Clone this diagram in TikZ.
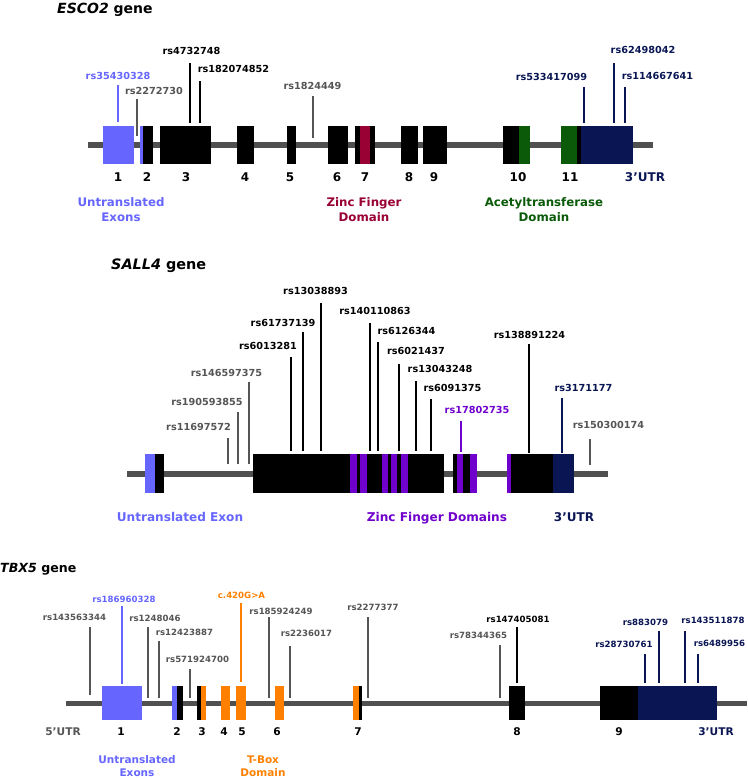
\documentclass[tikz,border=0pt]{standalone}
\usepackage{fontspec}
\setmainfont{DejaVu Sans}
\usepackage{tikz}
\usetikzlibrary{positioning}
\definecolor{utr}{RGB}{102,102,255}
\definecolor{znf}{RGB}{153,0,51}
\definecolor{acet}{RGB}{10,90,10}
\definecolor{navy}{RGB}{10,22,84}
\definecolor{snpgray}{RGB}{85,85,85}
\definecolor{bbgray}{RGB}{80,80,80}
\definecolor{zfpurple}{RGB}{112,0,204}
\definecolor{tbox}{RGB}{255,128,0}

\begin{document}
\begin{tikzpicture}[x=1pt,y=-1pt,
  exon/.style={anchor=north west,inner sep=0pt,outer sep=0pt,fill=black},
  esc/.style={exon,minimum height=38pt},
  sal/.style={exon,minimum height=39pt},
  tbx/.style={exon,minimum height=34pt},
  bb/.style={draw=bbgray,line width=6pt},
  stem/.style={line width=1.8pt},
  title/.style={anchor=base west,inner sep=0pt,font=\fontsize{14}{16}\selectfont\bfseries},
  lbl/.style={inner sep=0pt,font=\fontsize{9.7}{11}\selectfont\bfseries},
  lbls/.style={inner sep=0pt,font=\fontsize{8.6}{10}\selectfont\bfseries},
  num/.style={inner sep=0pt,font=\fontsize{12}{14}\selectfont\bfseries},
  nums/.style={inner sep=0pt,font=\fontsize{10.6}{12}\selectfont\bfseries},
  dom/.style={inner sep=0pt,align=center,font=\fontsize{11.8}{15}\selectfont\bfseries},
  doms/.style={inner sep=0pt,align=center,font=\fontsize{10.5}{13}\selectfont\bfseries}
]
\useasboundingbox (0,0) rectangle (747,779);

% ---------------- ESCO2 ----------------
\node[title] (escT) at (57,13) {\itshape ESCO2\upshape\ gene};
\coordinate (escL) at (88,145); \coordinate (escR) at (653,145);
\draw[bb] (escL) -- (escR);
\node[esc,fill=utr,minimum width=31pt] (esc1) at (103,126) {};
\node[esc,minimum width=13pt] (esc2) at (140,126) {};
\node[esc,fill=utr,minimum width=3pt] (esc2u) at (140,126) {};
\node[esc,minimum width=51pt] (esc3) at (160,126) {};
\node[esc,minimum width=17pt] (esc4) at (237,126) {};
\node[esc,minimum width=9pt] (esc5) at (287,126) {};
\node[esc,minimum width=20pt] (esc6) at (328,126) {};
\node[esc,minimum width=20pt] (esc7) at (355,126) {};
\node[esc,fill=znf,minimum width=10pt] (esc7z) at (360,126) {};
\node[esc,minimum width=17pt] (esc8) at (401,126) {};
\node[esc,minimum width=24pt] (esc9) at (423,126) {};
\node[esc,minimum width=27pt] (esc10) at (503,126) {};
\node[esc,fill=acet,minimum width=11pt] (esc10a) at (519,126) {};
\node[esc,minimum width=72pt] (esc11) at (561,126) {};
\node[esc,fill=acet,minimum width=16pt] (esc11a) at (561,126) {};
\node[esc,fill=navy,minimum width=52pt] (esc3u) at (581,126) {};

% SNPs
\coordinate (p1) at (118,122); \draw[stem,utr] (p1) -- ++(0,-37);
\node[lbl,text=utr] (l1) at (118,76) {rs35430328};
\coordinate (p2) at (137,136); \draw[stem,snpgray,line width=1.5pt] (p2) -- ++(0,-37);
\node[lbl,text=snpgray] (l2) at (154,91) {rs2272730};
\coordinate (p3) at (190,123); \draw[stem] (p3) -- ++(0,-60);
\node[lbl] (l3) at (191.5,51) {rs4732748};
\coordinate (p4) at (200,123); \draw[stem] (p4) -- ++(0,-42);
\node[lbl] (l4) at (233.5,69) {rs182074852};
\coordinate (p5) at (313,138); \draw[stem,snpgray,line width=1.5pt] (p5) -- ++(0,-42);
\node[lbl,text=snpgray] (l5) at (312.5,86) {rs1824449};
\coordinate (p6) at (584,123); \draw[stem,navy] (p6) -- ++(0,-36);
\node[lbl,text=navy] (l6) at (551.5,77) {rs533417099};
\coordinate (p7) at (614,123); \draw[stem,navy] (p7) -- ++(0,-60);
\node[lbl,text=navy] (l7) at (643,50) {rs62498042};
\coordinate (p8) at (625,123); \draw[stem,navy] (p8) -- ++(0,-36);
\node[lbl,text=navy] (l8) at (657.5,76) {rs114667641};

% exon numbers and domains
\node[num] (n1) at (118,177) {1};
\node[num] (n2) at (147,177) {2};
\node[num] (n3) at (186,177) {3};
\node[num] (n4) at (245,177) {4};
\node[num] (n5) at (290,177) {5};
\node[num] (n6) at (337,177) {6};
\node[num] (n7) at (365,177) {7};
\node[num] (n8) at (409,177) {8};
\node[num] (n9) at (434,177) {9};
\node[num] (n10) at (518,177) {10};
\node[num] (n11) at (570,177) {11};
\node[num,text=navy] (n12) at (645,177) {3’UTR};
\node[dom,text=utr] (d1) at (121,210) {Untranslated\\Exons};
\node[dom,text=znf] (d2) at (364,210) {Zinc Finger\\Domain};
\node[dom,text=acet] (d3) at (544,210) {Acetyltransferase\\Domain};

% ---------------- SALL4 ----------------
\node[title,font=\fontsize{14.4}{16}\selectfont\bfseries] (salT) at (111,269) {\itshape SALL4\upshape\ gene};
\coordinate (salL) at (127,474); \coordinate (salR) at (608,474);
\draw[bb] (salL) -- (salR);
\node[sal,minimum width=19pt] (sal1) at (145,454) {};
\node[sal,fill=utr,minimum width=10pt] (sal1u) at (145,454) {};
\node[sal,minimum width=191pt] (sal2) at (253,454) {};
\node[sal,fill=zfpurple,minimum width=7pt] (zf1) at (350,454) {};
\node[sal,fill=zfpurple,minimum width=7pt] (zf2) at (360,454) {};
\node[sal,fill=zfpurple,minimum width=6pt] (zf3) at (382,454) {};
\node[sal,fill=zfpurple,minimum width=6pt] (zf4) at (391,454) {};
\node[sal,fill=zfpurple,minimum width=7pt] (zf5) at (401,454) {};
\node[sal,minimum width=24pt] (sal3) at (453,454) {};
\node[sal,fill=zfpurple,minimum width=6pt] (zf6) at (457,454) {};
\node[sal,fill=zfpurple,minimum width=7pt] (zf7) at (470,454) {};
\node[sal,minimum width=67pt] (sal4) at (507,454) {};
\node[sal,fill=zfpurple,minimum width=4pt] (zf8) at (507,454) {};
\node[sal,fill=navy,minimum width=21pt] (sal3u) at (553,454) {};

% SNPs
\coordinate (q1) at (228,464); \draw[stem,snpgray,line width=1.5pt] (q1) -- ++(0,-26);
\node[lbl,text=snpgray] (m1) at (198.5,427) {rs11697572};
\coordinate (q2) at (238,464); \draw[stem,snpgray,line width=1.5pt] (q2) -- ++(0,-52);
\node[lbl,text=snpgray] (m2) at (207,402) {rs190593855};
\coordinate (q3) at (249,464); \draw[stem,snpgray,line width=1.5pt] (q3) -- ++(0,-82);
\node[lbl,text=snpgray] (m3) at (226.5,373) {rs146597375};
\coordinate (q4) at (291,451); \draw[stem] (q4) -- ++(0,-94);
\node[lbl] (m4) at (268,346) {rs6013281};
\coordinate (q5) at (303,451); \draw[stem] (q5) -- ++(0,-119);
\node[lbl] (m5) at (283,323) {rs61737139};
\coordinate (q6) at (321,451); \draw[stem] (q6) -- ++(0,-148);
\node[lbl] (m6) at (315.5,291) {rs13038893};
\coordinate (q7) at (370,451); \draw[stem] (q7) -- ++(0,-128);
\node[lbl] (m7) at (375,311) {rs140110863};
\coordinate (q8) at (378,451); \draw[stem] (q8) -- ++(0,-109);
\node[lbl] (m8) at (406.5,331) {rs6126344};
\coordinate (q9) at (399,451); \draw[stem] (q9) -- ++(0,-87);
\node[lbl] (m9) at (416,351) {rs6021437};
\coordinate (q10) at (416,451); \draw[stem] (q10) -- ++(0,-70);
\node[lbl] (m10) at (440,369) {rs13043248};
\coordinate (q11) at (431,451); \draw[stem] (q11) -- ++(0,-52);
\node[lbl] (m11) at (452.5,388) {rs6091375};
\coordinate (q12) at (461,452); \draw[stem,zfpurple] (q12) -- ++(0,-31);
\node[lbl,text=zfpurple] (m12) at (477,410) {rs17802735};
\coordinate (q13) at (529,453); \draw[stem] (q13) -- ++(0,-109);
\node[lbl] (m13) at (529.5,335) {rs138891224};
\coordinate (q14) at (562,453); \draw[stem,navy] (q14) -- ++(0,-55);
\node[lbl,text=navy] (m14) at (583.5,388) {rs3171177};
\coordinate (q15) at (590,465); \draw[stem,snpgray,line width=1.5pt] (q15) -- ++(0,-26);
\node[lbl,text=snpgray] (m15) at (608.5,425) {rs150300174};

% domains
\node[dom,anchor=base,font=\fontsize{12.1}{15}\selectfont\bfseries,text=utr] (s1) at (180,521) {Untranslated Exon};
\node[dom,anchor=base,font=\fontsize{12.1}{15}\selectfont\bfseries,text=zfpurple] (s2) at (437,521) {Zinc Finger Domains};
\node[num,anchor=base,text=navy] (s3) at (574,521) {3’UTR};

% ---------------- TBX5 ----------------
\node[title,font=\fontsize{12.6}{15}\selectfont\bfseries] (tbxT) at (0,572) {\itshape TBX5\upshape\ gene};
\coordinate (tbxL) at (66,703.5); \coordinate (tbxR) at (747,703.5);
\draw[bb,line width=5pt] (tbxL) -- (tbxR);
\node[tbx,fill=utr,minimum width=40pt] (tbx1) at (102,686) {};
\node[tbx,minimum width=11pt] (tbx2) at (172,686) {};
\node[tbx,fill=utr,minimum width=5pt] (tbx2u) at (172,686) {};
\node[tbx,minimum width=9pt] (tbx3) at (197,686) {};
\node[tbx,fill=tbox,minimum width=5pt] (tbx3t) at (201,686) {};
\node[tbx,fill=tbox,minimum width=9pt] (tbx4) at (221,686) {};
\node[tbx,fill=tbox,minimum width=10pt] (tbx5) at (236,686) {};
\node[tbx,fill=tbox,minimum width=9pt] (tbx6) at (275,686) {};
\node[tbx,fill=tbox,minimum width=9pt] (tbx7) at (353,686) {};
\node[tbx,minimum width=3pt] (tbx7b) at (359,686) {};
\node[tbx,minimum width=16pt] (tbx8) at (509,686) {};
\node[tbx,minimum width=117pt] (tbx9) at (600,686) {};
\node[tbx,fill=navy,minimum width=79pt] (tbx3u) at (638,686) {};

% SNPs
\coordinate (r1) at (90,695); \draw[stem,snpgray,line width=1.5pt] (r1) -- ++(0,-68);
\node[lbls,text=snpgray] (k1) at (74.5,617) {rs143563344};
\coordinate (r2) at (122,684); \draw[stem,utr] (r2) -- ++(0,-78);
\node[lbls,text=utr] (k2) at (124,599) {rs186960328};
\coordinate (r3) at (148,698); \draw[stem,snpgray,line width=1.5pt] (r3) -- ++(0,-71);
\node[lbls,text=snpgray] (k3) at (155,618) {rs1248046};
\coordinate (r4) at (159,698); \draw[stem,snpgray,line width=1.5pt] (r4) -- ++(0,-57);
\node[lbls,text=snpgray] (k4) at (184.5,632) {rs12423887};
\coordinate (r5) at (190,698); \draw[stem,snpgray,line width=1.5pt] (r5) -- ++(0,-29);
\node[lbls,text=snpgray] (k5) at (197.5,659) {rs571924700};
\coordinate (r6) at (241,682); \draw[stem,tbox] (r6) -- ++(0,-79);
\node[lbls,text=tbox] (k6) at (241.5,595) {c.420G>A};
\coordinate (r7) at (269,698); \draw[stem,snpgray,line width=1.5pt] (r7) -- ++(0,-81);
\node[lbls,text=snpgray] (k7) at (281,611) {rs185924249};
\coordinate (r8) at (290,698); \draw[stem,snpgray,line width=1.5pt] (r8) -- ++(0,-52);
\node[lbls,text=snpgray] (k8) at (306.5,633) {rs2236017};
\coordinate (r9) at (368,698); \draw[stem,snpgray,line width=1.5pt] (r9) -- ++(0,-81);
\node[lbls,text=snpgray] (k9) at (373,607) {rs2277377};
\coordinate (r10) at (500,698); \draw[stem,snpgray,line width=1.5pt] (r10) -- ++(0,-53);
\node[lbls,text=snpgray] (k10) at (478.5,635) {rs78344365};
\coordinate (r11) at (517,683); \draw[stem] (r11) -- ++(0,-56);
\node[lbls] (k11) at (518,619) {rs147405081};
\coordinate (r12) at (645,683); \draw[stem,navy] (r12) -- ++(0,-29);
\node[lbls,text=navy] (k12) at (624,644) {rs28730761};
\coordinate (r13) at (659,683); \draw[stem,navy] (r13) -- ++(0,-52);
\node[lbls,text=navy] (k13) at (645.5,622) {rs883079};
\coordinate (r14) at (685,683); \draw[stem,navy] (r14) -- ++(0,-52);
\node[lbls,text=navy] (k14) at (713,620) {rs143511878};
\coordinate (r15) at (698,683); \draw[stem,navy] (r15) -- ++(0,-29);
\node[lbls,text=navy] (k15) at (719.5,643) {rs6489956};

% exon numbers and domains
\node[nums,text=snpgray] (t0) at (63,732) {5’UTR};
\node[nums] (t1) at (121,732) {1};
\node[nums] (t2) at (177,732) {2};
\node[nums] (t3) at (202,732) {3};
\node[nums] (t4) at (224,732) {4};
\node[nums] (t5) at (242,732) {5};
\node[nums] (t6) at (277,732) {6};
\node[nums] (t7) at (358,732) {7};
\node[nums] (t8) at (517,732) {8};
\node[nums] (t9) at (619,732) {9};
\node[nums,text=navy] (t10) at (716,732) {3’UTR};
\node[doms,text=utr] (c1) at (137,766) {Untranslated\\Exons};
\node[doms,text=tbox] (c2) at (263,766) {T-Box\\Domain};
\end{tikzpicture}
\end{document}
